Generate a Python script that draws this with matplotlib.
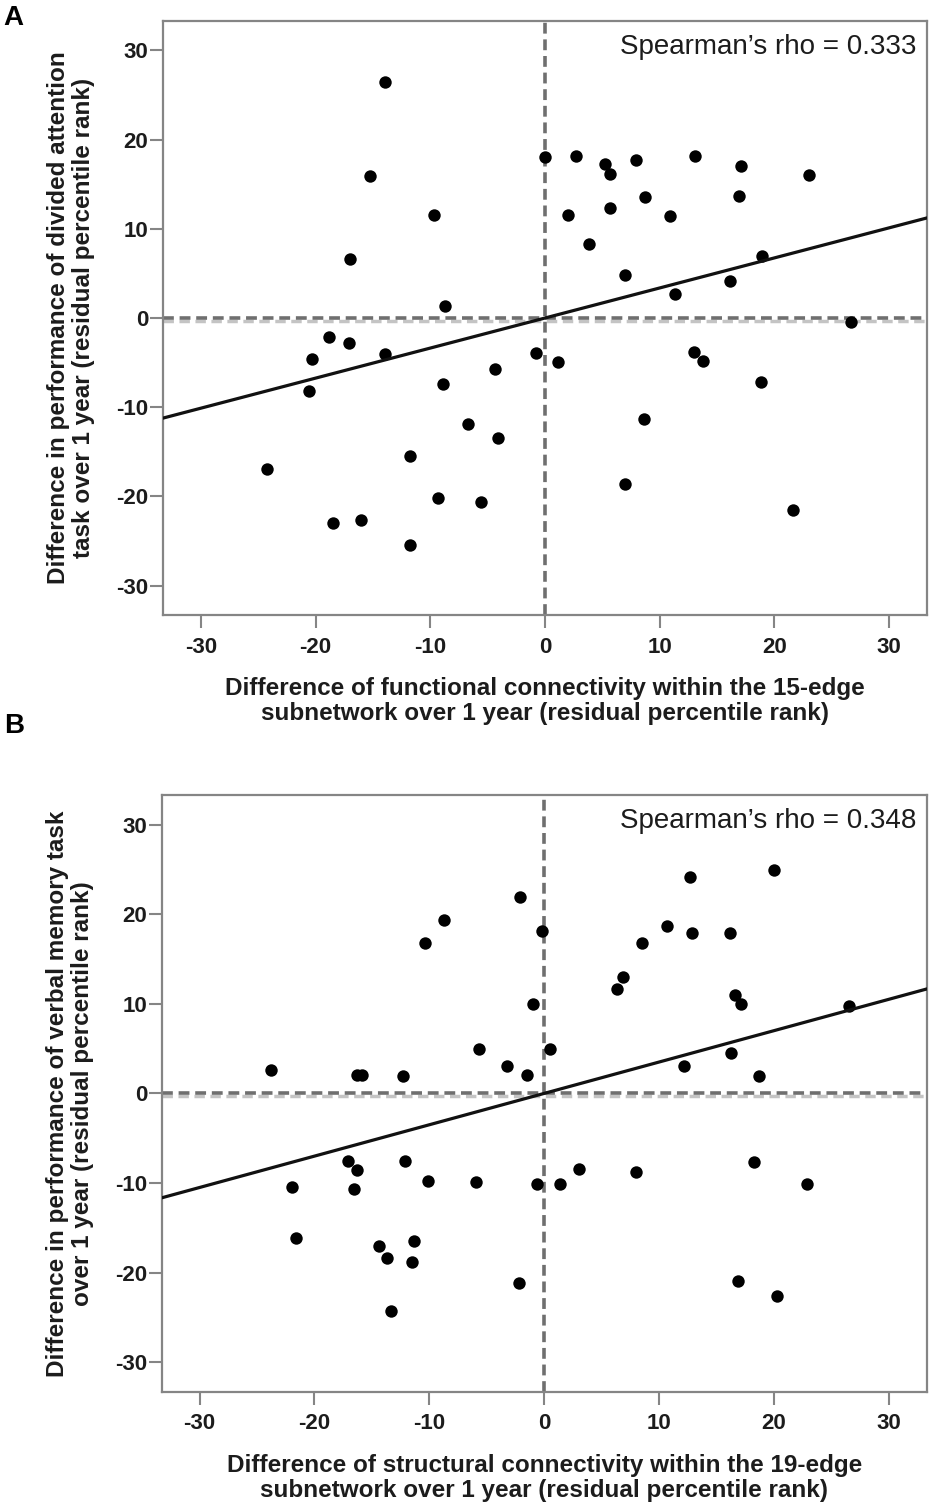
import matplotlib
matplotlib.use("Agg")
import matplotlib.pyplot as plt
import numpy as np

# panel A: functional connectivity vs divided attention
a_x = [-13.95, -15.3, -9.65, -17.0, -8.7, 0.0,
       2.7, 5.2, 5.7, 7.9, 13.1, 17.1, 23.0, 2.0, 5.7, 8.7, 10.9, 16.9,
       3.8, 7.0, 11.3, 16.1, 18.9, 26.7,
       -18.8, -17.1, -20.3, -13.95, -20.6, -8.9, -0.8, -4.4, -6.7, -4.1,
       -24.2, -11.8, -9.35, -5.6, -18.5, -16.0, -11.8,
       1.16, 13.0, 13.75, 18.8, 8.6, 7.0, 21.6]
a_y = [26.5, 15.9, 11.6, 6.6, 1.3, 18.1,
       18.2, 17.3, 16.2, 17.7, 18.2, 17.0, 16.0, 11.6, 12.3, 13.6, 11.4, 13.7,
       8.3, 4.8, 2.7, 4.2, 6.9, -0.5,
       -2.15, -2.8, -4.6, -4.0, -8.2, -7.4, -3.9, -5.7, -11.9, -13.4,
       -16.9, -15.5, -20.2, -20.6, -23.0, -22.6, -25.4,
       -4.95, -3.8, -4.8, -7.2, -11.3, -18.6, -21.5]
a_slope = 0.337
a_rho = "Spearman\u2019s rho = 0.333"
a_xlabel = ("Difference of functional connectivity within the 15-edge\n"
            "subnetwork over 1 year (residual percentile rank)")
a_ylabel = ("Difference in performance of divided attention\n"
            "task over 1 year (residual percentile rank)")

# panel B: structural connectivity vs verbal memory
b_x = [-23.75, -16.3, -15.9, -12.3, -10.4, -8.7, -2.1, -0.2, -1.0, -5.7, -3.2, -1.5,
       0.5, 12.7, 20.0, 10.65, 12.9, 16.2, 8.5, 6.9, 6.3, 16.65, 17.1, 26.5,
       16.3, 12.2, 18.7,
       -22.0, -21.6, -17.1, -16.3, -16.6, -12.1, -10.1, -5.9, -0.6,
       -14.4, -13.7, -11.3, -11.5, -13.3, -2.2,
       1.4, 3.0, 8.0, 18.3, 22.9, 16.9, 20.3]
b_y = [2.6, 2.1, 2.0, 1.9, 16.8, 19.4, 21.9, 18.1, 10.0, 4.9, 3.1, 2.0,
       4.9, 24.1, 24.9, 18.7, 17.9, 17.9, 16.8, 13.0, 11.7, 11.0, 10.0, 9.8,
       4.5, 3.1, 1.95,
       -10.4, -16.1, -7.6, -8.6, -10.7, -7.6, -9.8, -9.9, -10.1,
       -17.0, -18.4, -16.5, -18.8, -24.3, -21.2,
       -10.1, -8.4, -8.8, -7.7, -10.1, -20.9, -22.6]
b_slope = 0.35
b_rho = "Spearman\u2019s rho = 0.348"
b_xlabel = ("Difference of structural connectivity within the 19-edge\n"
            "subnetwork over 1 year (residual percentile rank)")
b_ylabel = ("Difference in performance of verbal memory task\n"
            "over 1 year (residual percentile rank)")

ticks = [-30, -20, -10, 0, 10, 20, 30]
lim = 33.3

plain = ["Liberation Sans", "DejaVu Sans"]
spine_c = "#858585"
dash_c = "#6f6f6f"
text_c = "#1c1c1c"


def draw_panel(ax, xs, ys, slope, rho, xlabel, ylabel):
    ax.set_xlim(-lim, lim)
    ax.set_ylim(-lim, lim)
    # soft shadow under the zero line, then the dashed reference lines
    ax.axhline(-0.3, color="#c4c4c4", lw=2.5, ls=(0, (3, 1.6)), zorder=1)
    ax.axhline(0, color=dash_c, lw=2.6, ls=(0, (3, 1.6)), zorder=2)
    ax.axvline(0, color=dash_c, lw=2.6, ls=(0, (3, 1.6)), zorder=2)
    ax.scatter(xs, ys, s=80, color="black", zorder=3, linewidths=0)
    line_x = np.array([-lim, lim])
    ax.plot(line_x, slope * line_x, color="#111111", lw=2.3, zorder=4)
    ax.text(0.986, 0.978, rho, transform=ax.transAxes, ha="right", va="top",
            fontsize=20, family=plain, color=text_c)

    ax.set_xticks(ticks)
    ax.set_yticks(ticks)
    ax.set_xticklabels([str(t) for t in ticks])
    ax.set_yticklabels([str(t) for t in ticks])
    for lab in ax.get_xticklabels() + ax.get_yticklabels():
        lab.set_family(plain)
        lab.set_fontweight("bold")
        lab.set_fontsize(16)
        lab.set_color(text_c)
    ax.tick_params(axis="both", direction="out", length=9.5, width=1.5,
                   color=spine_c)
    ax.tick_params(axis="x", pad=6)
    ax.tick_params(axis="y", pad=1)
    for sp in ax.spines.values():
        sp.set_color(spine_c)
        sp.set_linewidth(1.6)

    ax.set_xlabel(xlabel, family=plain, fontweight="bold", fontsize=17.5,
                  color=text_c, labelpad=14, linespacing=1.12)
    ax.set_ylabel(ylabel, family=plain, fontweight="bold", fontsize=17.5,
                  color=text_c, labelpad=15, linespacing=1.12)


fig = plt.figure(figsize=(9.38, 15.10), dpi=100)
ax_a = fig.add_axes([0.1738, 0.5927, 0.8145, 0.3934])
ax_b = fig.add_axes([0.1724, 0.0783, 0.8156, 0.3952])

draw_panel(ax_a, a_x, a_y, a_slope, a_rho, a_xlabel, a_ylabel)
draw_panel(ax_b, b_x, b_y, b_slope, b_rho, b_xlabel, b_ylabel)

fig.text(0.004, 0.997, "A", fontsize=20, fontweight="bold", family=plain,
         va="top", color="black")
fig.text(0.004, 0.5275, "B", fontsize=20, fontweight="bold", family=plain,
         va="top", color="black")

fig.savefig("out.png", dpi=100, facecolor="white")
